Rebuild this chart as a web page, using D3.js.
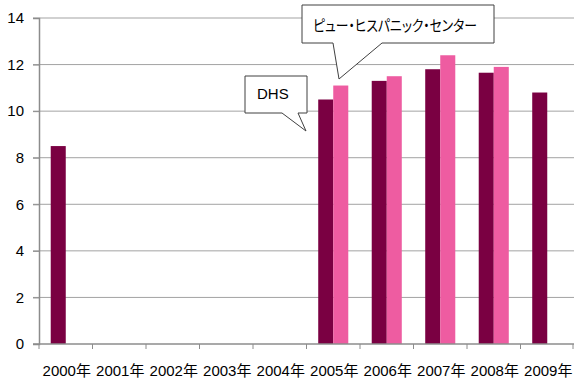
<!DOCTYPE html>
<html>
<head>
<meta charset="utf-8">
<script src="https://cdn.jsdelivr.net/npm/d3@7"></script>
<style>
  body { margin: 0; background: #fff; }
  text { font-family: "Liberation Sans", "Noto Sans CJK JP", sans-serif; fill: #000; }
</style>
</head>
<body>
<script>
let years = ['2000年', '2001年', '2002年', '2003年', '2004年', '2005年', '2006年', '2007年', '2008年', '2009年'];
let series = ['DHS', 'ピュー・ヒスパニック・センター'];
let dhs = [8.5, null, null, null, null, 10.5, 11.3, 11.8, 11.65, 10.8];
let pew = [null, null, null, null, null, 11.1, 11.5, 12.4, 11.9, null];
let yTicks = [0, 2, 4, 6, 8, 10, 12, 14];
let colors = ['#7a0042', '#ee5ca1'];

let width = 574;
let height = 379;
let mLeft = 39, mRight = 574, mTop = 18, mBottom = 344;

let svg = d3.select('body').append('svg')
    .attr('width', width)
    .attr('height', height);

let x = d3.scaleBand()
    .domain(years)
    .range([mLeft, mRight]);

let x1 = d3.scaleBand()
    .domain(series)
    .range([0, x.bandwidth()])
    .paddingOuter(0.78);

let y = d3.scaleLinear()
    .domain([0, 14])
    .range([mBottom, mTop]);

// grid lines
svg.selectAll('.grid')
    .data(yTicks.filter(d => d > 0))
    .join('line')
    .attr('class', 'grid')
    .attr('x1', mLeft - 6)
    .attr('x2', mRight)
    .attr('y1', d => y(d))
    .attr('y2', d => y(d))
    .attr('stroke', '#a3a3a3')
    .attr('stroke-width', 1);

// bars
let rows = [];
years.forEach((yr, i) => {
    [dhs[i], pew[i]].forEach((v, j) => {
        if (v != null) rows.push({year: yr, s: series[j], v: v, c: colors[j]});
    });
});

svg.selectAll('.bar')
    .data(rows)
    .join('rect')
    .attr('class', 'bar')
    .attr('x', d => x(d.year) + x1(d.s))
    .attr('width', x1.bandwidth())
    .attr('y', d => y(d.v))
    .attr('height', d => y(0) - y(d.v))
    .attr('fill', d => d.c);

// y axis
let yAxis = svg.append('g')
    .attr('transform', `translate(${mLeft},0)`)
    .call(d3.axisLeft(y).tickValues(yTicks).tickSize(6).tickPadding(9));
yAxis.select('.domain').attr('stroke', '#8c8c8c').attr('stroke-width', 1.5);
yAxis.selectAll('.tick line').attr('stroke', '#8c8c8c');
yAxis.selectAll('.tick text')
    .style('font-size', '15px')
    .attr('fill', '#000');

// x axis
svg.append('line')
    .attr('x1', mLeft - 6).attr('x2', mRight)
    .attr('y1', mBottom).attr('y2', mBottom)
    .attr('stroke', '#8c8c8c').attr('stroke-width', 1.5);

svg.selectAll('.xtick')
    .data(years.map(d => x(d)).concat([mRight - 1]))
    .join('line')
    .attr('class', 'xtick')
    .attr('x1', d => d).attr('x2', d => d)
    .attr('y1', mBottom).attr('y2', mBottom + 5)
    .attr('stroke', '#8c8c8c');

svg.selectAll('.xlabel')
    .data(years)
    .join('text')
    .attr('class', 'xlabel')
    .attr('x', d => x(d) + x.bandwidth() / 2 + 1)
    .attr('y', 376)
    .attr('text-anchor', 'middle')
    .style('font-size', '15px')
    .text(d => d);

// callouts
let callouts = [
    {path: [[245, 76], [307, 76], [307, 113], [298, 113], [306, 131], [282, 113], [245, 113]],
     text: series[0], tx: 257, ty: 99, len: null},
    {path: [[302, 5], [494, 5], [494, 43], [382, 43], [339, 79], [333, 43], [302, 43]],
     text: series[1], tx: 313, ty: 31, len: 164}
];

callouts.forEach(c => {
    svg.append('path')
        .attr('d', d3.line()(c.path) + 'Z')
        .attr('fill', '#fff')
        .attr('stroke', '#404040')
        .attr('stroke-width', 1);
    let t = svg.append('text')
        .attr('x', c.tx)
        .attr('y', c.ty)
        .style('font-size', '15px')
        .style('font-feature-settings', '"palt"')
        .text(c.text);
    if (c.len) t.attr('textLength', c.len).attr('lengthAdjust', 'spacingAndGlyphs');
});
</script>
</body>
</html>
